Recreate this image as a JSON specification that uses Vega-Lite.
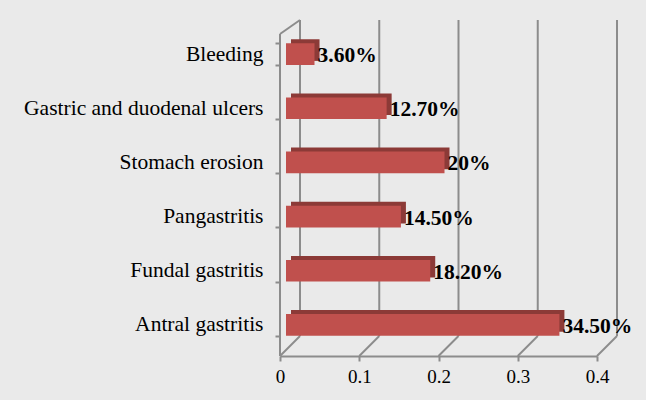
{
  "$schema": "https://vega.github.io/schema/vega-lite/v6.json",
  "width": 317,
  "height": 336,
  "autosize": {"type": "none"},
  "padding": {"left": 280, "top": 20, "right": 49, "bottom": 44},
  "background": "#eaeaea",
  "config": {
    "view": {"stroke": null},
    "font": "Liberation Serif",
    "axisX": {
      "domainColor": "#8c8c8c", "domainWidth": 2,
      "tickColor": "#8c8c8c", "tickWidth": 2, "tickSize": 5,
      "labelFont": "Liberation Serif", "labelFontSize": 19, "labelColor": "#000000",
      "labelPadding": 6, "labelFlush": false, "grid": false
    },
    "axisY": {
      "domain": false,
      "tickColor": "#8c8c8c", "tickWidth": 2, "tickSize": 5, "tickBand": "extent",
      "labelFont": "Liberation Serif", "labelFontSize": 21.5, "labelColor": "#000000",
      "labelPadding": 12, "labelLimit": 400, "grid": false
    }
  },
  "datasets": {
    "bars": [
      {"cat": "Bleeding", "value": 0.036, "label": "3.60%"},
      {"cat": "Gastric and duodenal ulcers", "value": 0.127, "label": "12.70%"},
      {"cat": "Stomach erosion", "value": 0.2, "label": "20%"},
      {"cat": "Pangastritis", "value": 0.145, "label": "14.50%"},
      {"cat": "Fundal gastritis", "value": 0.182, "label": "18.20%"},
      {"cat": "Antral gastritis", "value": 0.345, "label": "34.50%"}
    ],
    "ticks": [{"t": 0}, {"t": 0.1}, {"t": 0.2}, {"t": 0.3}, {"t": 0.4}]
  },
  "resolve": {"scale": {"y": "independent"}, "axis": {"y": "independent"}},
  "layer": [
    {
      "data": {"name": "ticks"},
      "mark": {"type": "rule", "color": "#8c8c8c", "strokeWidth": 2, "xOffset": 20},
      "encoding": {
        "x": {"field": "t", "type": "quantitative", "scale": {"domain": [0, 0.4], "nice": false},
              "axis": {"title": null, "format": "~g", "values": [0, 0.1, 0.2, 0.3, 0.4]}},
        "y": {"datum": 1, "type": "quantitative", "scale": {"domain": [0, 1], "range": [316, 0]}, "axis": null},
        "y2": {"datum": 0}
      }
    },
    {
      "data": {"name": "ticks"},
      "mark": {"type": "rule", "color": "#8c8c8c", "strokeWidth": 2, "x2Offset": 20},
      "encoding": {
        "x": {"field": "t", "type": "quantitative",
              "axis": {"title": null, "format": "~g", "values": [0, 0.1, 0.2, 0.3, 0.4]}},
        "x2": {"field": "t"},
        "y": {"datum": 0, "type": "quantitative", "scale": {"domain": [0, 1], "range": [336, 316]}, "axis": null},
        "y2": {"datum": 1}
      }
    },
    {
      "data": {"name": "ticks"},
      "transform": [{"filter": "datum.t == 0"}],
      "mark": {"type": "rule", "color": "#8c8c8c", "strokeWidth": 2},
      "encoding": {
        "x": {"field": "t", "type": "quantitative",
              "axis": {"title": null, "format": "~g", "values": [0, 0.1, 0.2, 0.3, 0.4]}},
        "y": {"datum": 0, "type": "quantitative", "scale": {"domain": [0, 1], "range": [336, 14]}, "axis": null},
        "y2": {"datum": 1}
      }
    },
    {
      "data": {"name": "ticks"},
      "transform": [{"filter": "datum.t == 0"}],
      "mark": {"type": "rule", "color": "#8c8c8c", "strokeWidth": 2, "x2Offset": 20},
      "encoding": {
        "x": {"field": "t", "type": "quantitative",
              "axis": {"title": null, "format": "~g", "values": [0, 0.1, 0.2, 0.3, 0.4]}},
        "x2": {"field": "t"},
        "y": {"datum": 0, "type": "quantitative", "scale": {"domain": [0, 1], "range": [14, 0]}, "axis": null},
        "y2": {"datum": 1}
      }
    },
    {
      "data": {"name": "bars"},
      "layer": [
        {
          "mark": {"type": "bar", "color": "#8c3a37", "xOffset": 11, "yOffset": -4},
          "encoding": {
            "x": {"field": "value", "type": "quantitative",
                  "axis": {"title": null, "format": "~g", "values": [0, 0.1, 0.2, 0.3, 0.4]}},
            "y": {"field": "cat", "type": "nominal", "sort": null,
                  "scale": {"range": [7, 332], "paddingInner": 0.6, "paddingOuter": 0.3},
                  "axis": {"title": null, "orient": "left"}}
          }
        },
        {
          "mark": {"type": "bar", "color": "#c0504d", "xOffset": 6},
          "encoding": {
            "x": {"field": "value", "type": "quantitative",
                  "axis": {"title": null, "format": "~g", "values": [0, 0.1, 0.2, 0.3, 0.4]}},
            "y": {"field": "cat", "type": "nominal", "sort": null, "axis": {"title": null, "orient": "left"}}
          }
        },
        {
          "mark": {"type": "text", "align": "left", "baseline": "middle", "dx": 9, "dy": 2,
                   "font": "Liberation Serif", "fontWeight": "bold", "fontSize": 21.5, "color": "#000000"},
          "encoding": {
            "x": {"field": "value", "type": "quantitative",
                  "axis": {"title": null, "format": "~g", "values": [0, 0.1, 0.2, 0.3, 0.4]}},
            "y": {"field": "cat", "type": "nominal", "sort": null, "axis": {"title": null, "orient": "left"}},
            "text": {"field": "label"}
          }
        }
      ]
    }
  ]
}
